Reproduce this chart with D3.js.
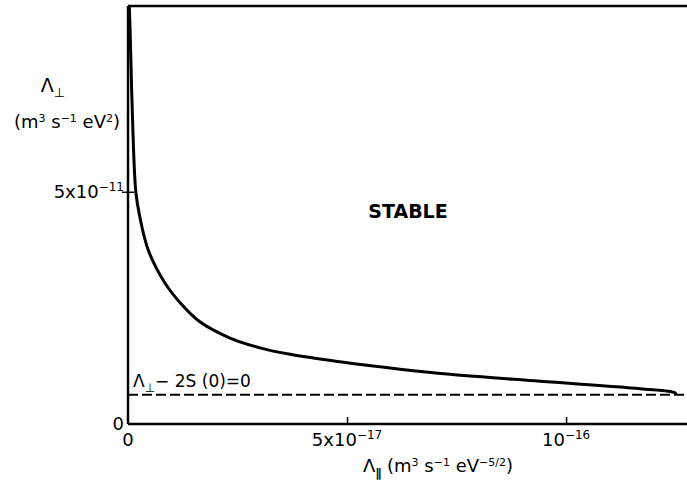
<!DOCTYPE html>
<html>
<head>
<meta charset="utf-8">
<script src="https://cdn.jsdelivr.net/npm/d3@7"></script>
<style>
	body { margin: 0; background: #fff; }
	text, tspan { font-family: "DejaVu Sans", sans-serif; fill: #000; }
	.sym { font-family: "DejaVu Sans", "Noto Sans CJK SC", sans-serif; fill: #000; }
</style>
</head>
<body>
<div id="chart-area"></div>
<script>

// x in units of 1e-17, y in units of 1e-11
let curveX = [0.03, 0.05, 0.09, 0.18, 0.27, 0.46, 0.84, 1.19, 1.64, 2.33, 3.01, 3.70, 4.84, 6.21, 7.35, 9.41, 11.69, 12.49];
let curveY = [9.0, 8.4, 6.98, 4.98, 4.46, 3.75, 3.04, 2.61, 2.20, 1.85, 1.64, 1.50, 1.34, 1.18, 1.07, 0.92, 0.76, 0.67];

let threshold = 0.63;   // Λ⊥ - 2S(0) = 0

let xTicks = [0, 5, 10];
let xTickLabels = [["0", ""], ["5x10", "−17"], ["10", "−16"]];
let yTicks = [0, 5];
let yTickLabels = [["0", ""], ["5x10", "−11"]];

let xMax = 12.76, yMax = 9.0;

let margin = {top: 6, right: 0, bottom: 67, left: 128};
let width = 687 - margin.left - margin.right,
	height = 491 - margin.top - margin.bottom;

let svg = d3.select("#chart-area").append("svg")
	.attr("width", 687)
	.attr("height", 491)
	.append("g")
	.attr("transform", "translate(" + margin.left + "," + margin.top + ")");

let x = d3.scaleLinear().domain([0, xMax]).range([0, width]);
let y = d3.scaleLinear().domain([0, yMax]).range([height, 0]);

// frame: left and top
svg.append("line").attr("x1", 0).attr("x2", 0).attr("y1", y(yMax)).attr("y2", y(0))
	.attr("stroke", "#000").attr("stroke-width", 2.5);
svg.append("line").attr("x1", 0).attr("x2", width).attr("y1", y(yMax)).attr("y2", y(yMax))
	.attr("stroke", "#000").attr("stroke-width", 2.5);

// axes
let xAxis = d3.axisBottom(x).tickValues(xTicks).tickSize(-7).tickFormat("");
let yAxis = d3.axisLeft(y).tickValues(yTicks).tickSize(6).tickFormat("");

let gx = svg.append("g").attr("transform", "translate(0," + height + ")").call(xAxis);
gx.select(".domain").attr("stroke-width", 2.5).attr("d", "M0,0H" + width);
gx.selectAll(".tick line").attr("stroke-width", 1.5)
	.style("display", (d, i) => i == 0 ? "none" : null);

let gy = svg.append("g").call(yAxis);
gy.select(".domain").remove();
gy.selectAll(".tick line").attr("x2", 6).attr("x1", -6).attr("stroke-width", 1.5)
	.style("display", (d, i) => i == 0 ? "none" : null);

// tick labels
xTicks.forEach((v, i) => {
	let t = svg.append("text")
		.attr("x", x(v))
		.attr("y", height + 22)
		.attr("text-anchor", "middle")
		.style("font-size", "18px");
	t.append("tspan").text(xTickLabels[i][0]);
	if (xTickLabels[i][1]) t.append("tspan").attr("dy", -7).style("font-size", "12px").text(xTickLabels[i][1]);
});

yTicks.forEach((v, i) => {
	let t = svg.append("text")
		.attr("x", -4)
		.attr("y", y(v) + 6)
		.attr("text-anchor", "end")
		.style("font-size", "18px");
	t.append("tspan").text(yTickLabels[i][0]);
	if (yTickLabels[i][1]) t.append("tspan").attr("dy", -7).style("font-size", "12px").text(yTickLabels[i][1]);
});

// threshold dashed line
svg.append("line")
	.attr("x1", 0).attr("x2", width)
	.attr("y1", y(threshold)).attr("y2", y(threshold))
	.attr("stroke", "#000").attr("stroke-width", 2)
	.attr("stroke-dasharray", "10,4");

let th = svg.append("text").attr("x", 5).attr("y", y(threshold) - 8).style("font-size", "17px");
th.append("tspan").text("Λ");
th.append("tspan").attr("class", "sym").attr("dy", 5).style("font-size", "12px").text("⊥");
th.append("tspan").attr("dy", -5).text("− 2S (0)=0");

// stability boundary
let curveData = curveX.map((d, i) => ({x: d, y: curveY[i]}));
curveData.push({x: curveX[curveX.length - 1] + 0.02, y: threshold});

svg.append("path")
	.datum(curveData)
	.attr("fill", "none")
	.attr("stroke", "#000")
	.attr("stroke-width", 3)
	.attr("d", d3.line().x(d => x(d.x)).y(d => y(d.y)).curve(d3.curveCatmullRom.alpha(0.5)));

// region label
svg.append("text")
	.attr("x", 280).attr("y", 212)
	.attr("text-anchor", "middle")
	.style("font-size", "19px").style("font-weight", "bold")
	.text("STABLE");

// y axis label
let yl = svg.append("text").attr("x", -75).attr("y", 86).attr("text-anchor", "middle").style("font-size", "19px");
yl.append("tspan").text("Λ");
yl.append("tspan").attr("class", "sym").attr("dy", 5).style("font-size", "13px").text("⊥");

let yl2 = svg.append("text").attr("x", -61).attr("y", 122).attr("text-anchor", "middle").style("font-size", "18px");
yl2.append("tspan").text("(m");
yl2.append("tspan").attr("dy", -6).style("font-size", "11px").text("3");
yl2.append("tspan").attr("dy", 6).text(" s");
yl2.append("tspan").attr("dy", -6).style("font-size", "11px").text("−1");
yl2.append("tspan").attr("dy", 6).text(" eV");
yl2.append("tspan").attr("dy", -6).style("font-size", "11px").text("2");
yl2.append("tspan").attr("dy", 6).text(")");

// x axis label
let xl = svg.append("text").attr("x", 310).attr("y", 472 - margin.top).attr("text-anchor", "middle").style("font-size", "18px");
xl.append("tspan").text("Λ");
xl.append("tspan").attr("class", "sym").attr("dy", 5).style("font-size", "12px").style("font-weight", "bold").text("∥");
xl.append("tspan").attr("dy", -5).text(" (m");
xl.append("tspan").attr("dy", -6).style("font-size", "11px").text("3");
xl.append("tspan").attr("dy", 6).text(" s");
xl.append("tspan").attr("dy", -6).style("font-size", "11px").text("−1");
xl.append("tspan").attr("dy", 6).text(" eV");
xl.append("tspan").attr("dy", -6).style("font-size", "11px").text("−5/2");
xl.append("tspan").attr("dy", 6).text(")");

</script>
</body>
</html>
